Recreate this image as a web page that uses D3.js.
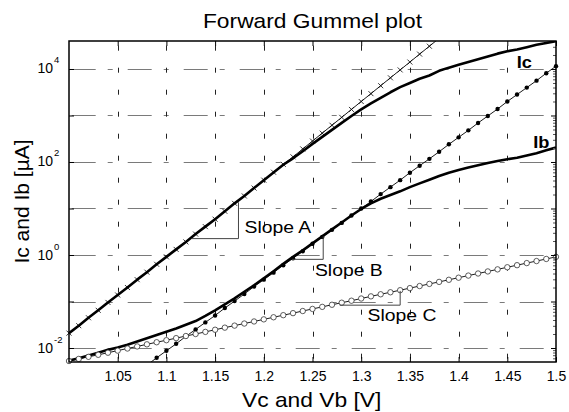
<!DOCTYPE html>
<html>
<head>
<meta charset="utf-8">
<script src="https://cdn.jsdelivr.net/npm/d3@7/dist/d3.min.js"></script>
<style>
  body { margin: 0; background: #fff; }
  svg { display: block; font-family: "Liberation Sans", Arial, sans-serif; }
</style>
</head>
<body>
<svg></svg>
<script>
// Base-emitter voltage (V), one sample every 10 mV
let voltages = [
  1.00, 1.01, 1.02, 1.03, 1.04, 1.05, 1.06, 1.07, 1.08, 1.09,
  1.10, 1.11, 1.12, 1.13, 1.14, 1.15, 1.16, 1.17, 1.18, 1.19,
  1.20, 1.21, 1.22, 1.23, 1.24, 1.25, 1.26, 1.27, 1.28, 1.29,
  1.30, 1.31, 1.32, 1.33, 1.34, 1.35, 1.36, 1.37, 1.38, 1.39,
  1.40, 1.41, 1.42, 1.43, 1.44, 1.45, 1.46, 1.47, 1.48, 1.49,
  1.50
];

// Currents in uA
let icMeasured = [
  0.0209, 0.0302, 0.0447, 0.0646, 0.0955, 0.138, 0.200, 0.295, 0.427, 0.631,
  0.912, 1.32, 1.91, 2.82, 4.07, 5.89, 8.71, 12.9, 18.6, 27.5,
  40.7, 59.6, 87.1, 120, 170, 245, 347, 490, 692, 977,
  1350, 1820, 2400, 3160, 4070, 5010, 6170, 7240, 9120, 10700,
  12300, 14100, 16200, 18600, 21400, 24000, 26300, 29500, 33100, 36300,
  39800
];
let ibMeasured = [
  0.00537, 0.00603, 0.00692, 0.00794, 0.00912, 0.0102, 0.0117, 0.0138, 0.0162, 0.0191,
  0.0224, 0.0263, 0.0316, 0.0380, 0.0490, 0.0646, 0.0871, 0.117, 0.162, 0.224,
  0.316, 0.447, 0.646, 0.912, 1.26, 1.78, 2.51, 3.55, 5.01, 7.08,
  9.77, 12.9, 16.2, 19.5, 23.4, 28.8, 34.7, 41.7, 50.1, 58.9,
  67.6, 75.9, 85.1, 95.5, 105, 115, 123, 138, 155, 178,
  204
];
// ideal Ic, 1.00 .. 1.38 V (x markers)
let icIdeal = [
  0.0209, 0.0302, 0.0447, 0.0646, 0.0955, 0.138, 0.200, 0.295, 0.427, 0.631,
  0.912, 1.32, 1.91, 2.82, 4.07, 5.89, 8.71, 12.9, 18.6, 27.5,
  40.7, 60.3, 89.1, 129, 191, 282, 417, 617, 912, 1350,
  2000, 2950, 4370, 6460, 9550, 14100, 20900, 30900, 45700
];
// ideal Ib, 1.08 .. 1.50 V (filled dots)
let ibIdeal = [
  0.00427, 0.00617, 0.00871, 0.0123, 0.0178, 0.0251, 0.0355, 0.0501, 0.0724, 0.102,
  0.145, 0.209, 0.295, 0.417, 0.603, 0.851, 1.20, 1.74, 2.45, 3.47,
  4.90, 7.08, 10.0, 14.1, 20.4, 28.8, 40.7, 58.9, 83.2, 117,
  166, 240, 339, 479, 692, 977, 1380, 2000, 2820, 3980,
  5620, 8130, 11500
];
// recombination part of Ib, 1.00 .. 1.50 V (open circles)
let ibRecomb = [
  0.00525, 0.00582, 0.00646, 0.00714, 0.00792, 0.00879, 0.00975, 0.0108, 0.0120, 0.0133,
  0.0147, 0.0163, 0.0181, 0.0200, 0.0222, 0.0247, 0.0274, 0.0303, 0.0336, 0.0372,
  0.0413, 0.0458, 0.0508, 0.0562, 0.0624, 0.0692, 0.0767, 0.0851, 0.0942, 0.104,
  0.116, 0.129, 0.143, 0.158, 0.175, 0.194, 0.215, 0.239, 0.264, 0.293,
  0.325, 0.361, 0.400, 0.443, 0.491, 0.545, 0.604, 0.670, 0.741, 0.822,
  0.912
];

// Axis ticks
let xTicks = [1.05, 1.1, 1.15, 1.2, 1.25, 1.3, 1.35, 1.4, 1.45, 1.5];
let yDecades = [1e-2, 1e-1, 1e0, 1e1, 1e2, 1e3, 1e4];
let yLabelExp = ["-2", "0", "2", "4"];

// Slope annotations (corner brackets)
let slopeLabels = ["Slope A", "Slope B", "Slope C"];
let slopeV0 = [1.126, 1.229, 1.278];
let slopeV1 = [1.174, 1.261, 1.340];
let slopeI0 = [2.25, 0.807, 0.0834];
let slopeI1 = [13.6, 2.51, 0.169];

let width = 569;
let height = 412;
let plotLeft = 69, plotRight = 556, plotTop = 41, plotBottom = 362;
let stretch = 1.14; // text in the picture is drawn a bit wide

let svg = d3.select("svg").attr("width", width).attr("height", height);

let xScale = d3.scaleLinear().domain([1.0, 1.5]).range([plotLeft, plotRight]);
let yScale = d3.scaleLog().domain([0.005, 40000]).range([plotBottom, plotTop]);

let addText = (x, y, str, size, anchor, weight) => {
  svg.append("g")
    .attr("transform", "translate(" + x + "," + y + ") scale(" + stretch + ",1)")
    .append("text")
    .attr("text-anchor", anchor)
    .attr("font-size", size)
    .attr("font-weight", weight || "normal")
    .attr("fill", "#000")
    .text(str);
};

// grid
let drawGrid = () => {
  let g = svg.append("g").attr("stroke", "#7a7a7a").attr("stroke-width", 1);
  g.selectAll("line.h")
    .data(yDecades)
    .enter()
    .append("line")
    .attr("x1", plotLeft).attr("x2", plotRight)
    .attr("y1", (d) => Math.round(yScale(d)) + 0.5)
    .attr("y2", (d) => Math.round(yScale(d)) + 0.5)
    .attr("stroke-dasharray", "24,12,5,15")
    .attr("stroke-dashoffset", -2.7);
  g.selectAll("line.v")
    .data(xTicks.slice(0, -1))
    .enter()
    .append("line")
    .attr("y1", plotTop).attr("y2", plotBottom)
    .attr("x1", (d) => Math.round(xScale(d)) + 0.5)
    .attr("x2", (d) => Math.round(xScale(d)) + 0.5)
    .attr("stroke", "#222")
    .attr("stroke-dasharray", "5,17")
    .attr("stroke-dashoffset", 17.3);
};

let generateAxis = () => {
  let xAxis = d3.axisBottom(xScale)
    .tickValues(xTicks)
    .tickFormat((d) => String(d))
    .tickSizeInner(-5)
    .tickSizeOuter(0)
    .tickPadding(9);
  let gx = svg.append("g")
    .attr("transform", "translate(0," + plotBottom + ")")
    .call(xAxis);
  gx.select(".domain").remove();
  gx.selectAll("text").attr("font-size", 14).attr("fill", "#000")
    .attr("font-family", "Liberation Sans, Arial, sans-serif");
  gx.selectAll("line").attr("stroke", "#000");

  let topAxis = d3.axisTop(xScale).tickValues(xTicks).tickFormat("").tickSizeInner(-5).tickSizeOuter(0);
  let gt = svg.append("g").attr("transform", "translate(0," + plotTop + ")").call(topAxis);
  gt.select(".domain").remove();

  let yAxis = d3.axisLeft(yScale).tickValues(yDecades).tickFormat("").tickSizeInner(-5).tickSizeOuter(0);
  let gy = svg.append("g").attr("transform", "translate(" + plotLeft + ",0)").call(yAxis);
  gy.select(".domain").remove();

  // right side: decades plus minor ticks
  let minor = [];
  [-3, -2, -1, 0, 1, 2, 3, 4].forEach((e) => {
    for (let m = 2; m <= 9; m++) {
      let v = m * Math.pow(10, e);
      if (v > 0.005 && v < 40000) minor.push(v);
    }
  });
  let yRight = d3.axisRight(yScale).tickValues(yDecades).tickFormat("").tickSizeInner(-5).tickSizeOuter(0);
  let gr = svg.append("g").attr("transform", "translate(" + plotRight + ",0)").call(yRight);
  gr.select(".domain").remove();
  let yRightMinor = d3.axisRight(yScale).tickValues(minor).tickFormat("").tickSizeInner(-3).tickSizeOuter(0);
  let grm = svg.append("g").attr("transform", "translate(" + plotRight + ",0)").call(yRightMinor);
  grm.select(".domain").remove();
  grm.selectAll("line").attr("stroke", "#555");

  // y tick labels: 10^n
  let labelled = [1e-2, 1e0, 1e2, 1e4];
  labelled.forEach((d, i) => {
    let y = yScale(d);
    svg.append("text")
      .attr("x", 53).attr("y", y + 4.5)
      .attr("text-anchor", "end").attr("font-size", 14)
      .text("10");
    svg.append("text")
      .attr("x", 54).attr("y", y - 5.5)
      .attr("font-size", 9.5)
      .text(yLabelExp[i]);
  });

  // frame
  svg.append("rect")
    .attr("x", plotLeft).attr("y", plotTop)
    .attr("width", plotRight - plotLeft).attr("height", plotBottom - plotTop)
    .attr("fill", "none").attr("stroke", "#000").attr("stroke-width", 1.5);
};

let drawCurves = () => {
  svg.append("clipPath").attr("id", "plotClip")
    .append("rect")
    .attr("x", plotLeft).attr("y", plotTop)
    .attr("width", plotRight - plotLeft).attr("height", plotBottom - plotTop);

  let plot = svg.append("g").attr("clip-path", "url(#plotClip)");
  let line = d3.line()
    .x((d) => xScale(d[0]))
    .y((d) => yScale(d[1]));

  let icIdealPts = icIdeal.map((v, i) => [voltages[i], v]);
  let ibIdealPts = ibIdeal.map((v, i) => [voltages[i + 8], v]);
  let recombPts = ibRecomb.map((v, i) => [voltages[i], v]);
  let icPts = icMeasured.map((v, i) => [voltages[i], v]);
  let ibPts = ibMeasured.map((v, i) => [voltages[i], v]);

  let inside = (d) => d[1] >= 0.005 && d[1] <= 40000;

  // thin ideal lines
  [icIdealPts, ibIdealPts, recombPts].forEach((pts) => {
    plot.append("path")
      .attr("d", line(pts))
      .attr("fill", "none").attr("stroke", "#000").attr("stroke-width", 0.9);
  });

  // x markers
  svg.append("g").selectAll("path")
    .data(icIdealPts.filter(inside))
    .enter()
    .append("path")
    .attr("d", (d) => {
      let x = xScale(d[0]), y = yScale(d[1]), s = 2.5;
      return "M" + (x - s) + "," + (y - s) + "L" + (x + s) + "," + (y + s) +
        "M" + (x - s) + "," + (y + s) + "L" + (x + s) + "," + (y - s);
    })
    .attr("stroke", "#000").attr("stroke-width", 0.8);

  // filled dots
  svg.append("g").selectAll("circle")
    .data(ibIdealPts.filter(inside))
    .enter()
    .append("circle")
    .attr("cx", (d) => xScale(d[0]))
    .attr("cy", (d) => yScale(d[1]))
    .attr("r", 2.2)
    .attr("fill", "#000");

  // open circles
  svg.append("g").selectAll("circle")
    .data(recombPts.filter(inside))
    .enter()
    .append("circle")
    .attr("cx", (d) => xScale(d[0]))
    .attr("cy", (d) => yScale(d[1]))
    .attr("r", 2.7)
    .attr("fill", "#fff")
    .attr("stroke", "#333")
    .attr("stroke-width", 0.8);

  // measured curves (thick)
  [icPts, ibPts].forEach((pts) => {
    plot.append("path")
      .attr("d", line(pts))
      .attr("fill", "none").attr("stroke", "#000")
      .attr("stroke-width", 2.6).attr("stroke-linejoin", "round");
  });
};

let drawSlopes = () => {
  let offsets = [[6, -5.3], [-8.3, 16.7], [-32.7, 15.7]];
  slopeLabels.forEach((label, i) => {
    let x0 = xScale(slopeV0[i]), x1 = xScale(slopeV1[i]);
    let y0 = yScale(slopeI0[i]), y1 = yScale(slopeI1[i]);
    svg.append("path")
      .attr("d", "M" + x0 + "," + y0 + "L" + x1 + "," + y0 + "L" + x1 + "," + y1)
      .attr("fill", "none").attr("stroke", "#444").attr("stroke-width", 1);
    addText(x1 + offsets[i][0], y0 + offsets[i][1], label, 17, "start");
  });
};

let drawLabels = () => {
  addText((plotLeft + plotRight) / 2, 28.3, "Forward Gummel plot", 20, "middle");
  addText(311.7, 406.7, "Vc and Vb [V]", 20, "middle");
  svg.append("text")
    .attr("transform", "translate(28.5," + (plotTop + plotBottom) / 2 + ") rotate(-90)")
    .attr("text-anchor", "middle")
    .attr("font-size", 21)
    .text("Ic and Ib [\u00b5A]");
  addText(516.7, 68.3, "Ic", 16, "start", "bold");
  addText(533.3, 147.7, "Ib", 16, "start", "bold");
};

drawGrid();
drawCurves();
generateAxis();
drawSlopes();
drawLabels();
</script>
</body>
</html>
